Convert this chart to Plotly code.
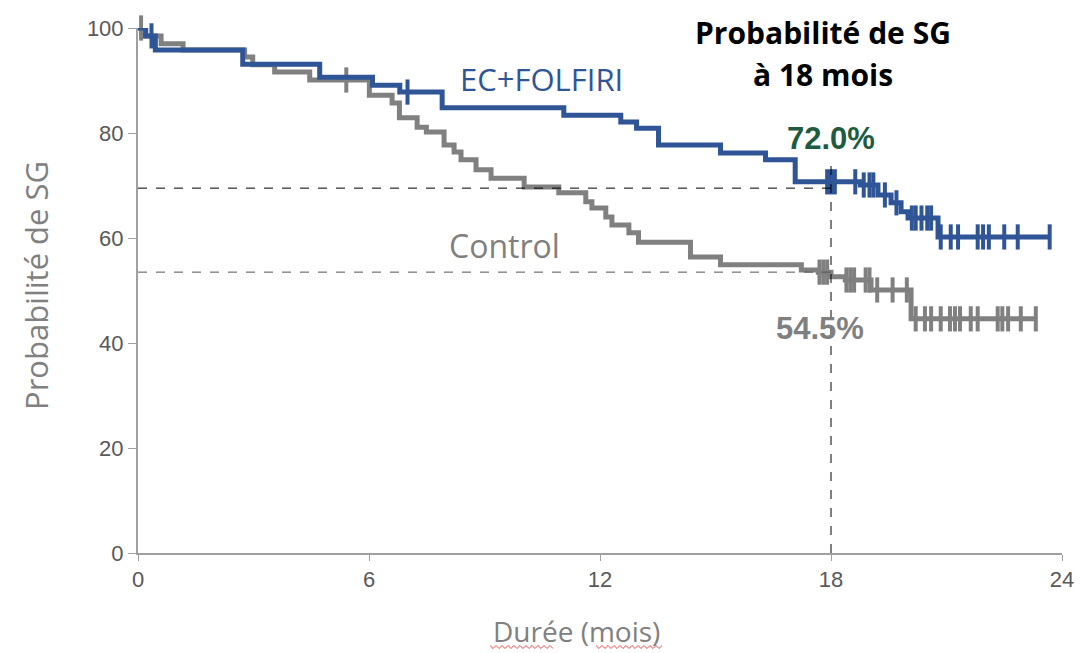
import plotly.graph_objects as go

# EC+FOLFIRI arm: step times (months) and survival (%) after each step
blue_t = [0, 0.2, 0.45, 2.72, 4.72, 6.09, 6.8, 7.9, 11.06, 12.54, 12.95, 13.52, 15.13, 16.3, 17.07,
          18.76, 19.22, 19.56, 19.82, 20.0, 20.78, 23.68]
blue_s = [100, 98.5, 95.8, 93.1, 90.6, 89.1, 87.8, 84.8, 83.4, 82.1, 80.9, 77.7, 76.2, 74.9, 70.7,
          70.1, 68.2, 66.7, 65.0, 63.8, 60.2, 60.2]
blue_cens = [0.35, 7.0, 17.9, 18.0, 18.1, 18.63, 18.85, 19.0, 19.1, 19.4, 19.7, 20.1, 20.2, 20.35,
             20.5, 20.6, 20.85, 21.11, 21.3, 21.81, 21.95, 22.1, 22.5, 22.85, 23.68]

# Control arm
gray_t = [0, 0.1, 0.6, 1.17, 2.77, 2.98, 3.55, 4.46, 6.01, 6.6, 6.79, 7.25, 7.49, 7.95, 8.21, 8.39,
          8.78, 9.17, 10.03, 10.93, 11.63, 11.79, 12.15, 12.31, 12.75, 13.0, 14.35, 15.13, 17.23,
          17.67, 18.0, 18.37, 19.04, 20.08, 23.32]
gray_s = [100, 98.5, 97.0, 95.8, 94.5, 93.0, 91.6, 90.1, 87.2, 85.7, 82.9, 81.1, 80.2, 77.7, 76.4,
          74.9, 73.0, 71.4, 69.7, 68.6, 66.9, 65.7, 64.0, 62.5, 61.0, 59.2, 56.4, 54.9, 53.9, 53.5,
          52.6, 52.0, 50.1, 44.6, 44.6]
gray_cens = [0.08, 5.41, 17.7, 17.8, 17.9, 18.4, 18.5, 18.6, 18.9, 19.0, 19.2, 19.6, 19.97, 20.2,
             20.44, 20.6, 20.85, 21.09, 21.22, 21.35, 21.63, 21.81, 22.33, 22.45, 22.6, 22.93, 23.32]

x_ticks = [0, 6, 12, 18, 24]
y_ticks = [0, 20, 40, 60, 80, 100]

BLUE = "#2F5597"
GRAY = "#808080"
GREEN = "#1E5B40"

L, R, T, B = 138, 22, 28, 100
W, H = 1084, 653
PW, PH = W - L - R, H - T - B


def px2paper(px, py):
    return (px - L) / PW, (H - B - py) / PH


def step_val(ts, ss, t):
    v = ss[0]
    for ti, si in zip(ts, ss):
        if ti <= t:
            v = si
    return v


fig = go.Figure()
for ts, ss, cens, col in [(gray_t, gray_s, gray_cens, GRAY), (blue_t, blue_s, blue_cens, BLUE)]:
    fig.add_trace(go.Scatter(x=ts, y=ss, mode="lines", line=dict(color=col, width=5, shape="hv"),
                             showlegend=False, hoverinfo="skip", cliponaxis=False))
    fig.add_trace(go.Scatter(x=cens, y=[step_val(ts, ss, c) for c in cens], mode="markers",
                             marker=dict(symbol="line-ns-open", size=18, color=col,
                                         line=dict(color=col, width=4)),
                             showlegend=False, hoverinfo="skip", cliponaxis=False))

# reference dashed lines at 18 months
fig.add_shape(type="line", x0=0, x1=18, y0=69.5, y1=69.5, line=dict(color="black", width=1, dash="dash"))
fig.add_shape(type="line", x0=0, x1=18, y0=53.5, y1=53.5, line=dict(color="#555555", width=1, dash="dash"))
fig.add_shape(type="line", x0=18, x1=18, y0=0, y1=73.9, line=dict(color="black", width=1, dash="dash"))


# spell-check style red wavy underlines under the x-axis title
def wavy(px0, px1, py):
    pts = []
    x = px0
    k = 0
    while x <= px1:
        yy = py + (1.5 if k % 2 else -1.5)
        pts.append(px2paper(x, yy))
        x += 3
        k += 1
    return "M " + " L ".join(f"{a:.5f},{b:.5f}" for a, b in pts)


for a, b in [(490, 553), (596, 664)]:
    fig.add_shape(type="path", xref="paper", yref="paper", path=wavy(a, b, 647),
                  line=dict(color="#E84A4A", width=1))

FONT = "Open Sans"
ann = [
    dict(x=17.8, y=99.2, text="<b>Probabilité de SG</b>", font=dict(size=30, color="black", family=FONT)),
    dict(x=17.8, y=91.2, text="<b>à 18 mois</b>", font=dict(size=30, color="black", family=FONT)),
    dict(x=10.49, y=90.3, text="EC+FOLFIRI", font=dict(size=31, color=BLUE, family=FONT)),
    dict(x=9.51, y=58.5, text="Control", font=dict(size=32, color=GRAY, family=FONT)),
    dict(x=18.0, y=79.0, text="<b>72.0%</b>", font=dict(size=31, color=GREEN, family="Liberation Sans")),
    dict(x=17.72, y=42.7, text="<b>54.5%</b>", font=dict(size=31, color=GRAY, family="Liberation Sans")),
]
for a in ann:
    fig.add_annotation(xref="x", yref="y", showarrow=False, xanchor="center", yanchor="middle", **a)

# axis titles
xt = px2paper(576, 631)
fig.add_annotation(xref="paper", yref="paper", x=xt[0], y=xt[1], text="Durée (mois)", showarrow=False,
                   xanchor="center", yanchor="middle", borderpad=0,
                   font=dict(size=28, color="#808080", family=FONT))
yt = px2paper(36, 286)
fig.add_annotation(xref="paper", yref="paper", x=yt[0], y=yt[1], text="Probabilité de SG", showarrow=False,
                   textangle=-90, xanchor="center", yanchor="middle",
                   font=dict(size=31, color="#808080", family=FONT))

TICKFONT = dict(size=22, color="#595959", family="Liberation Sans")
fig.update_layout(
    width=W, height=H, margin=dict(l=L, r=R, t=T, b=B, autoexpand=False),
    plot_bgcolor="white", paper_bgcolor="white",
    font=dict(family="Liberation Sans", color="#606060"),
    xaxis=dict(range=[0, 24], tickvals=x_ticks, showgrid=False, zeroline=False, showline=True,
               linecolor="#A0A0A0", linewidth=2, ticks="outside", ticklen=6, tickcolor="#A0A0A0",
               tickfont=TICKFONT, automargin=False),
    yaxis=dict(range=[0, 100], tickvals=y_ticks, showgrid=False, zeroline=False, showline=True,
               linecolor="#A0A0A0", linewidth=2, ticks="outside", ticklen=8, tickcolor="#A0A0A0",
               tickfont=TICKFONT, automargin=False),
)

fig.write_html("out.html")
